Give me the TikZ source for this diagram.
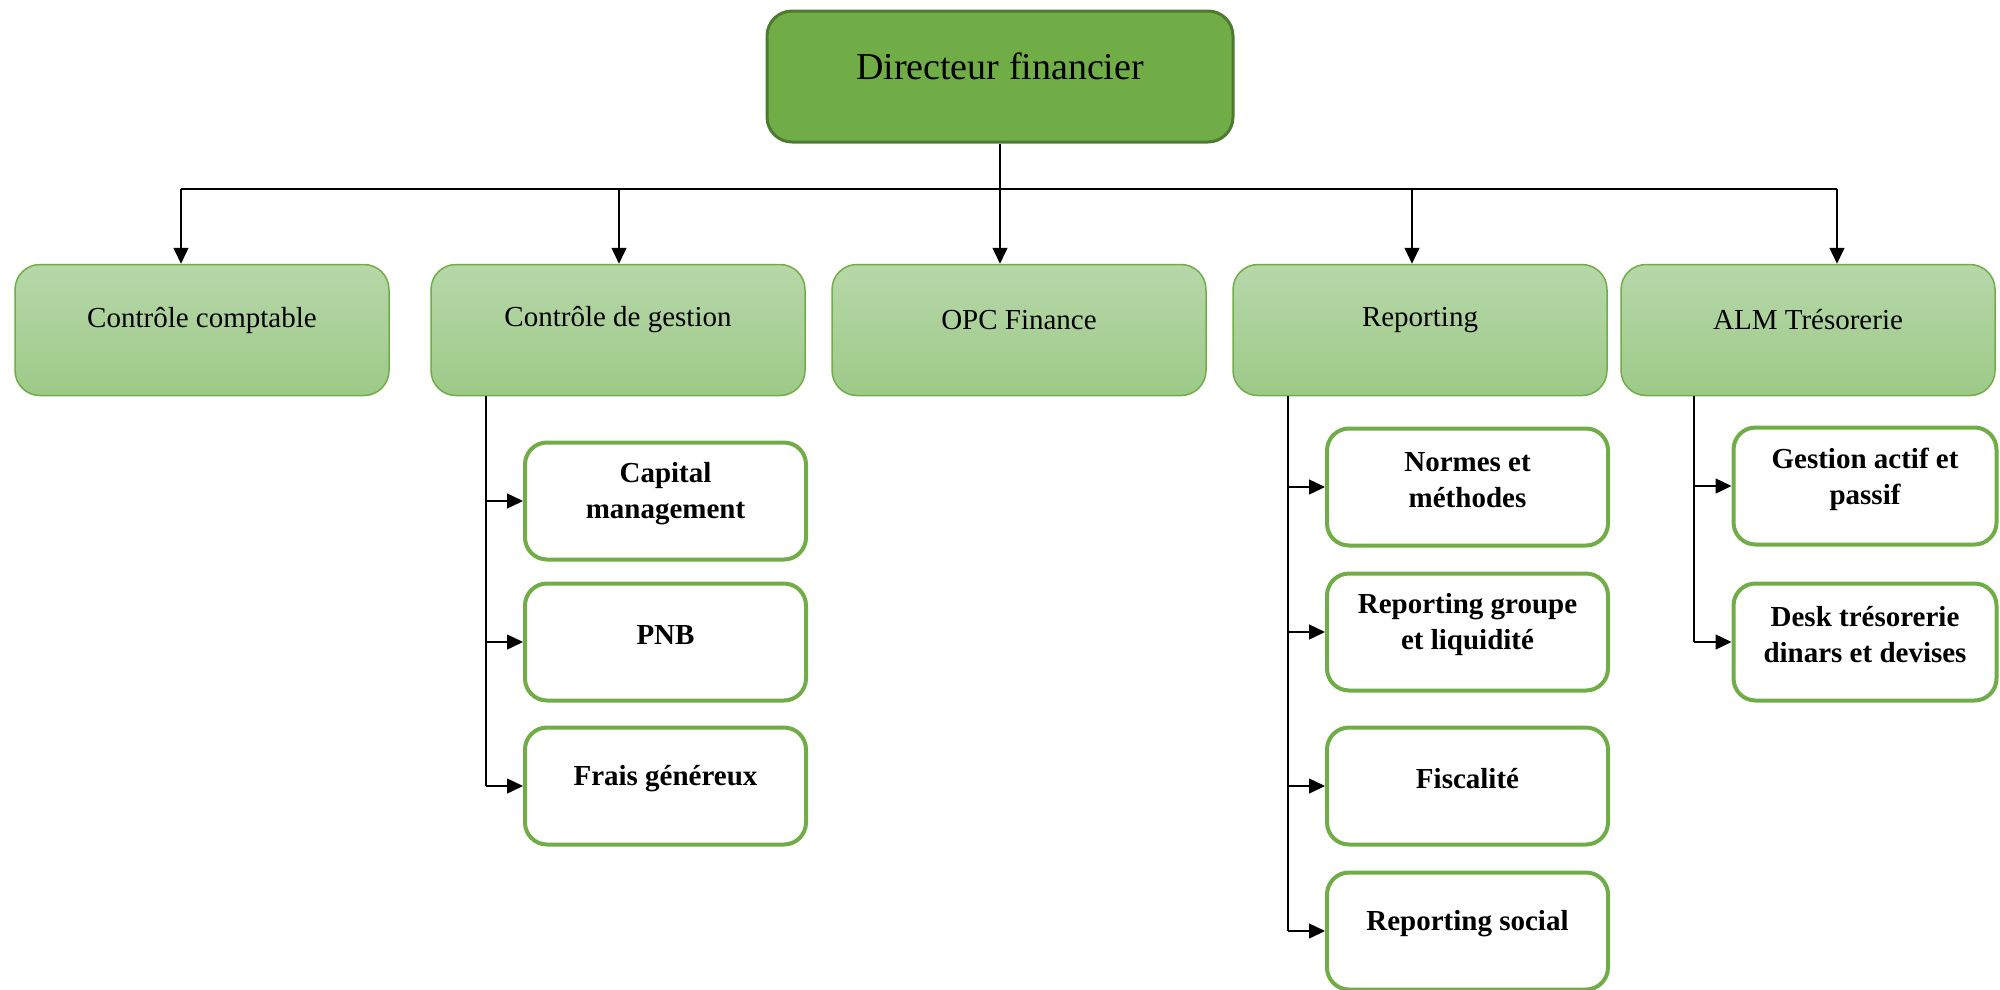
\documentclass[tikz,border=0pt]{standalone}
\usepackage{fontspec}
\setmainfont{Liberation Serif}
\usetikzlibrary{arrows.meta}
\definecolor{topfill}{HTML}{70AD47}
\definecolor{topdraw}{HTML}{4E7A30}
\definecolor{lvtop}{HTML}{B7D7A9}
\definecolor{lvbot}{HTML}{9DCA88}
\definecolor{grn}{HTML}{70AD47}
\begin{document}
\begin{tikzpicture}[x=1pt,y=-1pt,
  topbox/.style={draw=topdraw, line width=3pt, fill=topfill, rounded corners=25pt, minimum width=466pt, minimum height=131pt, inner sep=0pt},
  lvbox/.style={draw=grn, line width=1.5pt, top color=lvtop, bottom color=lvbot, rounded corners=25pt, minimum width=374pt, minimum height=131pt, inner sep=0pt},
  subbox/.style={draw=grn, line width=4pt, fill=white, rounded corners=22pt, minimum width=281pt, minimum height=117pt, inner sep=0pt},
  toptext/.style={font=\fontsize{38}{46}\selectfont, align=center, inner sep=0pt},
  lvtext/.style={font=\fontsize{29}{36}\selectfont, align=center, inner sep=0pt},
  subtext/.style={font=\fontsize{29}{36}\selectfont\bfseries, align=center, inner sep=0pt},
  conn/.style={line width=1.4pt, draw=black},
  arr/.style={conn, -{Triangle[length=16pt,width=15pt]}}
]
\useasboundingbox (0,0) rectangle (2000,989);

% top
\node[topbox] (top) at (1000,76.5) {};
\node[toptext] (topt) at ([yshift=10pt]top.center) {Directeur financier};

% level 1
\node[lvbox] (cc)  at (202,330) {};
\node[lvbox] (cg)  at (618,330) {};
\node[lvbox] (opc) at (1019,330) {};
\node[lvbox] (rep) at (1420,330) {};
\node[lvbox] (alm) at (1808,330) {};
\node[lvtext] (cct)  at ([yshift=10pt]cc.center)  {Contrôle comptable};
\node[lvtext] (cgt)  at ([yshift=10pt]cg.center)  {Contrôle de gestion};
\node[lvtext] (opct) at ([yshift=10pt]opc.center) {OPC Finance};
\node[lvtext] (rept) at ([yshift=10pt]rep.center) {Reporting};
\node[lvtext] (almt) at ([yshift=10pt]alm.center) {ALM Trésorerie};

% sub boxes: controle de gestion
\node[subbox] (cg1) at (665.5,501) {};
\node[subbox] (cg2) at (665.5,642) {};
\node[subbox] (cg3) at (665.5,786) {};
\node[subtext] at ([yshift=7pt]cg1.center) {Capital\\management};
\node[subtext] at ([yshift=7pt]cg2.center) {PNB};
\node[subtext] at ([yshift=7pt]cg3.center) {Frais généreux};

% sub boxes: reporting
\node[subbox] (r1) at (1467.5,487) {};
\node[subbox] (r2) at (1467.5,632) {};
\node[subbox] (r3) at (1467.5,786) {};
\node[subbox] (r4) at (1467.5,931) {};
\node[subtext] at ([yshift=7pt]r1.center) {Normes et\\méthodes};
\node[subtext] at ([yshift=7pt]r2.center) {Reporting groupe\\et liquidité};
\node[subtext] at ([yshift=7pt]r3.center) {Fiscalité};
\node[subtext] at ([yshift=7pt]r4.center) {Reporting social};

% sub boxes: ALM
\node[subbox, minimum width=263pt] (a1) at (1865,486) {};
\node[subbox, minimum width=263pt] (a2) at (1865,642) {};
\node[subtext] at ([yshift=7pt]a1.center) {Gestion actif et\\passif};
\node[subtext] at ([yshift=7pt]a2.center) {Desk trésorerie\\dinars et devises};

% connectors top -> level 1
\coordinate (busL) at (181,189);
\coordinate (busR) at (1837,189);
\coordinate (b2) at (619,189);
\coordinate (b3) at (1000,189);
\coordinate (b4) at (1412,189);
\draw[conn] (top.south) -- (b3);
\draw[conn] (busL) -- (busR);
\draw[arr] (busL) -- (busL |- cc.north);
\draw[arr] (b2) -- (b2 |- cg.north);
\draw[arr] (b3) -- (b3 |- opc.north);
\draw[arr] (b4) -- (b4 |- rep.north);
\draw[arr] (busR) -- (busR |- alm.north);

% trunks
\coordinate (cgx) at (486,0);
\coordinate (rx) at (1288,0);
\coordinate (ax) at (1694,0);
\draw[conn] (cgx |- cg.south) -- (cgx |- cg3.west);
\draw[arr] (cgx |- cg1.west) -- (cg1.west);
\draw[arr] (cgx |- cg2.west) -- (cg2.west);
\draw[arr] (cgx |- cg3.west) -- (cg3.west);

\draw[conn] (rx |- rep.south) -- (rx |- r4.west);
\draw[arr] (rx |- r1.west) -- (r1.west);
\draw[arr] (rx |- r2.west) -- (r2.west);
\draw[arr] (rx |- r3.west) -- (r3.west);
\draw[arr] (rx |- r4.west) -- (r4.west);

\draw[conn] (ax |- alm.south) -- (ax |- a2.west);
\draw[arr] (ax |- a1.west) -- (a1.west);
\draw[arr] (ax |- a2.west) -- (a2.west);
\end{tikzpicture}
\end{document}
